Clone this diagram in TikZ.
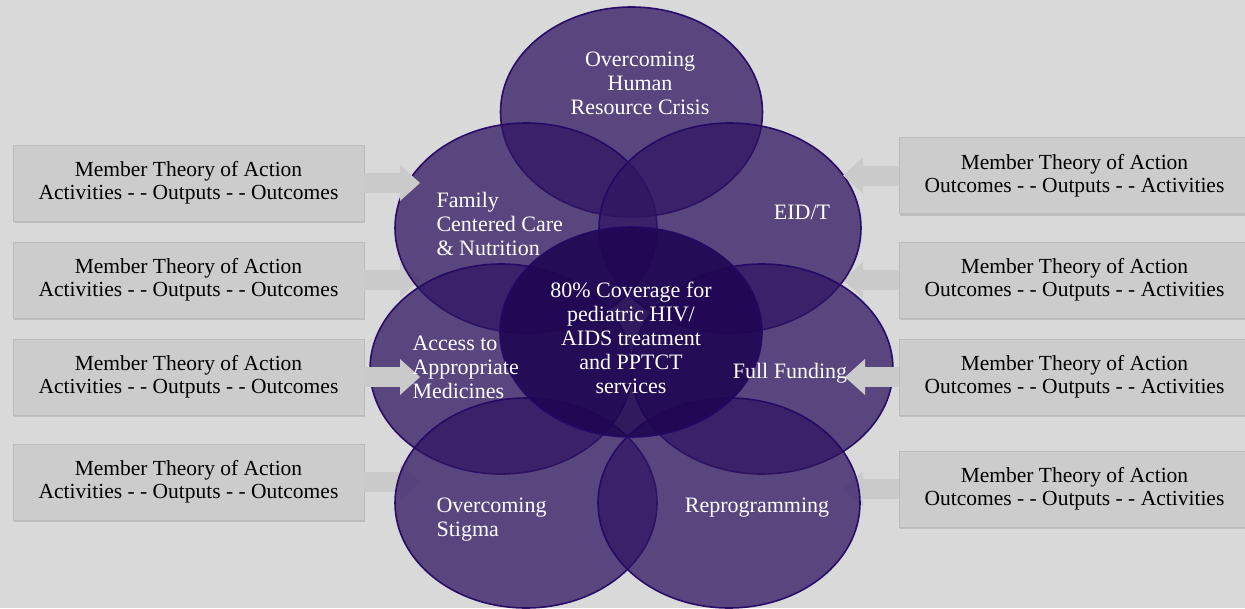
\documentclass[tikz,border=0pt]{standalone}
\usepackage{fontspec}
\setmainfont{Liberation Serif}
\usetikzlibrary{shapes.geometric}
\usetikzlibrary{arrows.meta}
\usetikzlibrary{shadows}

\definecolor{bggrey}{RGB}{217,217,217}
\definecolor{boxgrey}{RGB}{204,204,204}
\definecolor{boxedge}{RGB}{188,188,188}
\definecolor{arrowgrey}{RGB}{202,202,202}
\definecolor{petalfill}{RGB}{48,21,98}
\definecolor{petaledge}{RGB}{36,8,100}
\definecolor{corefill}{RGB}{32,6,82}

\tikzset{
  theory/.style={draw=boxedge, fill=boxgrey, minimum width=351pt, minimum height=76pt,
    align=center, font=\fontsize{21.5}{23}\selectfont,
    drop shadow={shadow xshift=1pt,shadow yshift=-2pt,opacity=.3}},
  petal/.style={ellipse, draw=petaledge, fill=petalfill, fill opacity=.75, draw opacity=.95,
    line width=1.6pt, minimum width=262pt, minimum height=210pt, inner sep=0pt},
  petaltext/.style={text=white, font=\fontsize{22}{24}\selectfont},
  feed/.style={draw=arrowgrey, line width=20pt,
    -{Triangle[length=20pt,width=36pt,line width=0pt]}}
}

\begin{document}
\begin{tikzpicture}[x=1pt,y=-1pt]%
    \useasboundingbox (0,0) rectangle (1245,608);
    \clip (0,0) rectangle (1245,608);
    \fill[bggrey] (0,0) rectangle (1245,608);

    \node[theory] (l1) at (188.5,183) {Member Theory of Action\\Activities - - Outputs - - Outcomes};
    \node[theory] (l2) at (188.5,280) {Member Theory of Action\\Activities - - Outputs - - Outcomes};
    \node[theory] (l3) at (188.5,377) {Member Theory of Action\\Activities - - Outputs - - Outcomes};
    \node[theory] (l4) at (188.5,482) {Member Theory of Action\\Activities - - Outputs - - Outcomes};
    \node[theory] (r1) at (1074.5,175.5) {Member Theory of Action\\Outcomes - - Outputs - - Activities};
    \node[theory] (r2) at (1074.5,280) {Member Theory of Action\\Outcomes - - Outputs - - Activities};
    \node[theory] (r3) at (1074.5,377) {Member Theory of Action\\Outcomes - - Outputs - - Activities};
    \node[theory] (r4) at (1074.5,489) {Member Theory of Action\\Outcomes - - Outputs - - Activities};

    \coordinate (lt1) at (420,183);
    \coordinate (lt2) at (420,280);
    \coordinate (lt3) at (420,377);
    \coordinate (lt4) at (420,482);
    \coordinate (rt1) at (843,175.5);
    \coordinate (rt2) at (843,280);
    \coordinate (rt3) at (845,377);
    \coordinate (rt4) at (843,489);

    \draw[feed] (l2) -- (lt2);
    \draw[feed] (l4) -- (lt4);
    \draw[feed] (r2) -- (rt2);
    \draw[feed] (r4) -- (rt4);

    \node[petal] (hr) at (631.5,112) {};
    \node[petal] (fcc) at (526,228) {};
    \node[petal] (eid) at (730,228) {};
    \node[petal] (med) at (501,369) {};
    \node[petal] (fund) at (762,369) {};
    \node[petal] (stig) at (526,503) {};
    \node[petal] (repro) at (729,503) {};
    \node[petal, fill=corefill, fill opacity=.9] (core) at (631,332) {};

    \draw[feed] (l1) -- (lt1);
    \draw[feed] (l3) -- (lt3);
    \draw[feed] (r1) -- (rt1);
    \draw[feed] (r3) -- (rt3);

    \node[petaltext, align=center] at (640,83) {Overcoming\\Human\\Resource Crisis};
    \node[petaltext, align=left, anchor=west] at (433,224) {Family\\Centered Care\\\& Nutrition};
    \node[petaltext] at (802,212) {EID/T};
    \node[petaltext, align=center] at (631,338) {80\% Coverage for\\pediatric HIV/\\AIDS treatment\\and PPTCT\\services};
    \node[petaltext, align=left, anchor=west] at (409,367) {Access to\\Appropriate\\Medicines};
    \node[petaltext] at (790,373) {Full Funding};
    \node[petaltext, align=left, anchor=west] at (433,519.5) {Overcoming\\Stigma};
    \node[petaltext] at (757,508) {Reprogramming};
\end{tikzpicture}
\end{document}
